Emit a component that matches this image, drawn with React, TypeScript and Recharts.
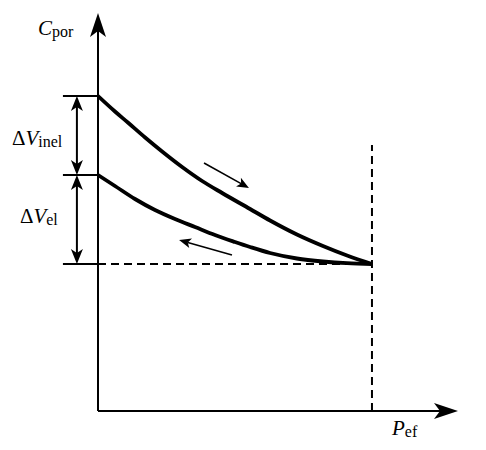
import { LineChart, Line, XAxis, YAxis, ReferenceLine, ReferenceDot } from "recharts";

// loading branch (upper) and unloading branch (lower)
const loadP = [0, 0.62, 1.09, 1.72, 2.34, 3.07, 3.8, 4.53, 5.55, 6.28, 7.26, 8.21, 9.09, 10];
const loadC = [31.5, 29.95, 28.85, 27.35, 25.95, 24.4, 23.0, 21.8, 20.2, 19.05, 17.65, 16.5, 15.55, 14.7];
const unloadP = [0, 0.62, 1.35, 2.08, 2.81, 3.54, 4.27, 5.0, 5.55, 6.28, 7.26, 8.21, 9.09, 10];
const unloadC = [23.6, 22.5, 21.2, 20.1, 19.2, 18.4, 17.6, 16.9, 16.4, 15.8, 15.25, 14.95, 14.78, 14.7];

// key levels
const cStart = 31.5;
const cEl = 23.6;
const cMin = 14.7;
const pMax = 10;
const xMax = 13.14;
const yMax = 39.8;
const tickLeft = -1.28;
const dimX = -0.77;

// direction arrows [fromP, fromC, toP, toC]
const loadArrow = [3.87, 24.8, 5.51, 22.3];
const unloadArrow = [4.89, 15.6, 2.96, 17.1];

// labels: [delta, main, sub, p, c]
const labels: [string, string, string, number, number][] = [
  ["", "C", "por", -2.19, 37.6],
  ["Δ", "V", "inel", -3.14, 26.6],
  ["Δ", "V", "el", -2.85, 18.8],
  ["", "P", "ef", 10.73, -2.4],
];

const loadData = loadP.map((p, i) => ({ p, c: loadC[i] }));
const unloadData = unloadP.map((p, i) => ({ p, c: unloadC[i] }));

type Head = { len: number; hw: number; notch: number };

function headPoints(tx: number, ty: number, fx: number, fy: number, h: Head) {
  const L = Math.hypot(tx - fx, ty - fy) || 1;
  const dx = (tx - fx) / L;
  const dy = (ty - fy) / L;
  const nx = -dy;
  const ny = dx;
  const bx = tx - dx * h.len;
  const by = ty - dy * h.len;
  const mx = tx - dx * (h.len - h.notch);
  const my = ty - dy * (h.len - h.notch);
  return {
    pts: `${tx},${ty} ${bx + nx * h.hw},${by + ny * h.hw} ${mx},${my} ${bx - nx * h.hw},${by - ny * h.hw}`,
    mx,
    my,
  };
}

function arrowShape(width: number, end?: Head, start?: Head) {
  return (props: any) => {
    const { x1, y1, x2, y2 } = props;
    let sx = x1, sy = y1, ex = x2, ey = y2;
    const parts: any[] = [];
    if (end) {
      const e = headPoints(x2, y2, x1, y1, end);
      ex = e.mx; ey = e.my;
      parts.push(<polygon key="e" points={e.pts} fill="#000" />);
    }
    if (start) {
      const s = headPoints(x1, y1, x2, y2, start);
      sx = s.mx; sy = s.my;
      parts.push(<polygon key="s" points={s.pts} fill="#000" />);
    }
    return (
      <g>
        <line x1={sx} y1={sy} x2={ex} y2={ey} stroke="#000" strokeWidth={width} />
        {parts}
      </g>
    );
  };
}

const serif = "'Liberation Serif', 'DejaVu Serif', serif";

function labelShape(delta: string, main: string, sub: string) {
  return (props: any) => (
    <text x={props.cx} y={props.cy} style={{ fontFamily: serif }} fontFamily={serif} fontSize={21} fill="#000">
      {delta && <tspan>{delta}</tspan>}
      <tspan fontStyle="italic">{main}</tspan>
      <tspan fontSize={16} dy={2}>{sub}</tspan>
    </text>
  );
}

const axisHead = { len: 24, hw: 8, notch: 6 };
const dimHead = { len: 15, hw: 6, notch: 4 };
const dirHead = { len: 12, hw: 5, notch: 3 };

export default function App() {
  return (
    <div style={{ position: "absolute", left: 0, top: 0, background: "#fff" }}>
      <LineChart width={486} height={450} margin={{ top: 11, right: 28, bottom: 39, left: 98 }}>
        <XAxis type="number" dataKey="p" domain={[0, xMax]} hide allowDataOverflow />
        <YAxis type="number" dataKey="c" domain={[0, 40]} hide allowDataOverflow />

        {/* axes */}
        <ReferenceLine segment={[{ x: 0, y: 0 }, { x: 0, y: yMax }]} ifOverflow="visible" shape={arrowShape(2, axisHead)} />
        <ReferenceLine segment={[{ x: 0, y: 0 }, { x: xMax, y: 0 }]} ifOverflow="visible" shape={arrowShape(2, axisHead)} />

        {/* dashed guides */}
        <ReferenceLine segment={[{ x: pMax, y: 0 }, { x: pMax, y: 26.6 }]} ifOverflow="visible" stroke="#000" strokeWidth={2} strokeDasharray="8 5" />
        <ReferenceLine segment={[{ x: 0, y: cMin }, { x: pMax, y: cMin }]} ifOverflow="visible" stroke="#000" strokeWidth={2} strokeDasharray="8 5" />

        {/* level ticks */}
        {[cStart, cEl, cMin].map((c) => (
          <ReferenceLine key={c} segment={[{ x: tickLeft, y: c }, { x: 0, y: c }]} ifOverflow="visible" stroke="#000" strokeWidth={2} />
        ))}

        {/* dimension arrows */}
        <ReferenceLine segment={[{ x: dimX, y: cEl }, { x: dimX, y: cStart }]} ifOverflow="visible" shape={arrowShape(2, dimHead, dimHead)} />
        <ReferenceLine segment={[{ x: dimX, y: cMin }, { x: dimX, y: cEl }]} ifOverflow="visible" shape={arrowShape(2, dimHead, dimHead)} />

        {/* direction arrows */}
        <ReferenceLine segment={[{ x: loadArrow[0], y: loadArrow[1] }, { x: loadArrow[2], y: loadArrow[3] }]} ifOverflow="visible" shape={arrowShape(1.6, dirHead)} />
        <ReferenceLine segment={[{ x: unloadArrow[0], y: unloadArrow[1] }, { x: unloadArrow[2], y: unloadArrow[3] }]} ifOverflow="visible" shape={arrowShape(1.6, dirHead)} />

        <Line data={loadData} dataKey="c" type="monotone" stroke="#000" strokeWidth={3.8} dot={false} isAnimationActive={false} />
        <Line data={unloadData} dataKey="c" type="monotone" stroke="#000" strokeWidth={3.8} dot={false} isAnimationActive={false} />

        {labels.map(([d, m, s, p, c]) => (
          <ReferenceDot key={m + s} x={p} y={c} r={0} ifOverflow="visible" shape={labelShape(d, m, s)} />
        ))}
      </LineChart>
    </div>
  );
}
